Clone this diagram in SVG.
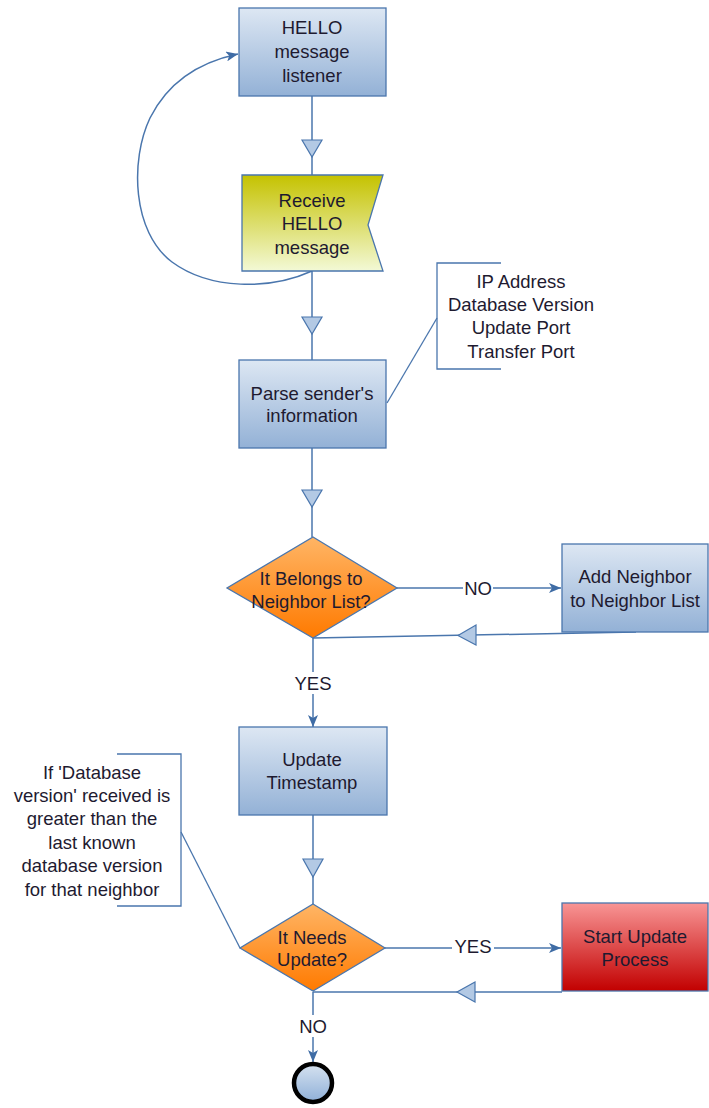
<svg xmlns="http://www.w3.org/2000/svg" width="709" height="1108" viewBox="0 0 709 1108">
  <defs>
    <linearGradient id="gBlue" x1="0" y1="0" x2="0" y2="1">
      <stop offset="0" stop-color="#dde7f3"/>
      <stop offset="1" stop-color="#93b1d6"/>
    </linearGradient>
    <linearGradient id="gYellow" x1="0" y1="0" x2="0" y2="1">
      <stop offset="0" stop-color="#c5c200"/>
      <stop offset="1" stop-color="#f3f9d6"/>
    </linearGradient>
    <linearGradient id="gOrange" x1="0" y1="0" x2="0" y2="1">
      <stop offset="0" stop-color="#ffb565"/>
      <stop offset="1" stop-color="#ff7a00"/>
    </linearGradient>
    <linearGradient id="gRed" x1="0" y1="0" x2="0" y2="1">
      <stop offset="0" stop-color="#f89595"/>
      <stop offset="1" stop-color="#c20000"/>
    </linearGradient>
    <linearGradient id="gEnd" x1="0" y1="0" x2="0" y2="1">
      <stop offset="0" stop-color="#d6e2f0"/>
      <stop offset="1" stop-color="#8fb0d8"/>
    </linearGradient>
    <marker id="solid" viewBox="0 0 12 10" refX="12" refY="5" markerWidth="12" markerHeight="10" markerUnits="userSpaceOnUse" orient="auto">
      <path d="M0,0 L12,5 L0,10 L3,5 Z" fill="#3f6ca5"/>
    </marker>
  </defs>
  <style>
    .box { stroke: #4a76ad; stroke-width: 1.3; }
    .line { stroke: #4a76ad; stroke-width: 1.5; fill: none; }
    .tri { fill: #b3c9e4; stroke: #4a76ad; stroke-width: 1.2; }
    .note { stroke: #4a76ad; stroke-width: 1.3; fill: none; }
    text { font-family: "Liberation Sans", Arial, sans-serif; font-size: 18.5px; fill: #1e1a30; text-anchor: middle; }
    .lbl { fill: #ffffff; }
  </style>

  <!-- connectors -->
  <g id="connectors">
    <!-- listener -> receive -->
    <line class="line" x1="312" y1="96" x2="312" y2="175"/>
    <polygon class="tri" points="302,140 322,140 312,157"/>
    <!-- loop back to listener -->
    <path class="line" marker-end="url(#solid)" d="M312,271 C270,290 210,290 172,262 C132,232 130,160 150,118 C168,82 200,62 238,54"/>
    <!-- receive -> parse -->
    <line class="line" x1="312" y1="271" x2="312" y2="360"/>
    <polygon class="tri" points="302,317 322,317 312,334"/>
    <!-- parse -> decision 1 -->
    <line class="line" x1="312" y1="448" x2="312" y2="537"/>
    <polygon class="tri" points="302,490 322,490 312,507"/>
    <!-- NO -> add neighbor -->
    <line class="line" x1="397" y1="588" x2="561" y2="588" marker-end="url(#solid)"/>
    <rect class="lbl" x="463" y="577" width="30" height="20"/>
    <text x="478" y="595">NO</text>
    <!-- add neighbor back -->
    <line class="line" x1="636" y1="632" x2="313" y2="638"/>
    <polygon class="tri" points="476,625 476,645 458,635.5"/>
    <!-- YES -> update timestamp -->
    <line class="line" x1="313" y1="638" x2="313" y2="727" marker-end="url(#solid)"/>
    <rect class="lbl" x="292" y="672" width="42" height="22"/>
    <text x="313" y="690">YES</text>
    <!-- timestamp -> decision 2 -->
    <line class="line" x1="313" y1="815" x2="313" y2="904"/>
    <polygon class="tri" points="303,859 323,859 313,877"/>
    <!-- YES -> start update -->
    <line class="line" x1="385" y1="948" x2="561" y2="948" marker-end="url(#solid)"/>
    <rect class="lbl" x="452" y="936" width="42" height="22"/>
    <text x="473" y="953">YES</text>
    <!-- start update back -->
    <line class="line" x1="562" y1="992" x2="313" y2="992"/>
    <polygon class="tri" points="475,982 475,1002 457,992"/>
    <!-- NO -> end -->
    <line class="line" x1="313" y1="992" x2="313" y2="1062" marker-end="url(#solid)"/>
    <rect class="lbl" x="298" y="1015" width="30" height="22"/>
    <text x="313" y="1033">NO</text>
  </g>

  <!-- nodes -->
  <g id="hello-listener">
    <rect class="box" x="239" y="8" width="147" height="88" fill="url(#gBlue)"/>
    <text x="312" y="34">HELLO</text>
    <text x="312" y="58">message</text>
    <text x="312" y="82">listener</text>
  </g>

  <g id="receive-hello">
    <polygon class="box" points="242,175 383,175 368,225 383,271 242,271" fill="url(#gYellow)"/>
    <text x="312" y="207">Receive</text>
    <text x="312" y="230">HELLO</text>
    <text x="312" y="254">message</text>
  </g>

  <g id="parse-info">
    <rect class="box" x="239" y="360" width="147" height="88" fill="url(#gBlue)"/>
    <text x="312" y="400">Parse sender's</text>
    <text x="312" y="422">information</text>
  </g>

  <g id="note-fields">
    <path class="note" d="M501,263 H437 V369 H501"/>
    <line class="note" x1="437" y1="318" x2="387" y2="403"/>
    <text x="521" y="288">IP Address</text>
    <text x="521" y="311">Database Version</text>
    <text x="521" y="334">Update Port</text>
    <text x="521" y="358">Transfer Port</text>
  </g>

  <g id="belongs-decision">
    <polygon class="box" points="313,537 397,588 313,638 227,588" fill="url(#gOrange)"/>
    <text x="311" y="585">It Belongs to</text>
    <text x="311" y="608">Neighbor List?</text>
  </g>

  <g id="add-neighbor">
    <rect class="box" x="562" y="544" width="146" height="88" fill="url(#gBlue)"/>
    <text x="635" y="583">Add Neighbor</text>
    <text x="635" y="607">to Neighbor List</text>
  </g>

  <g id="update-timestamp">
    <rect class="box" x="239" y="727" width="148" height="88" fill="url(#gBlue)"/>
    <text x="312" y="766">Update</text>
    <text x="312" y="789">Timestamp</text>
  </g>

  <g id="note-version">
    <path class="note" d="M117,754 H181 V906 H117"/>
    <line class="note" x1="181" y1="832" x2="240" y2="948"/>
    <text x="92" y="779">If 'Database</text>
    <text x="92" y="802">version' received is</text>
    <text x="92" y="825">greater than the</text>
    <text x="92" y="849">last known</text>
    <text x="92" y="872">database version</text>
    <text x="92" y="896">for that neighbor</text>
  </g>

  <g id="needs-update-decision">
    <polygon class="box" points="313,904 385,948 313,991 240,948" fill="url(#gOrange)"/>
    <text x="312" y="944">It Needs</text>
    <text x="312" y="966">Update?</text>
  </g>

  <g id="start-update">
    <rect class="box" x="562" y="903" width="146" height="88" fill="url(#gRed)"/>
    <text x="635" y="943">Start Update</text>
    <text x="635" y="966">Process</text>
  </g>

  <g id="end">
    <circle cx="313" cy="1083" r="19" fill="url(#gEnd)" stroke="#000000" stroke-width="4.5"/>
  </g>
</svg>
